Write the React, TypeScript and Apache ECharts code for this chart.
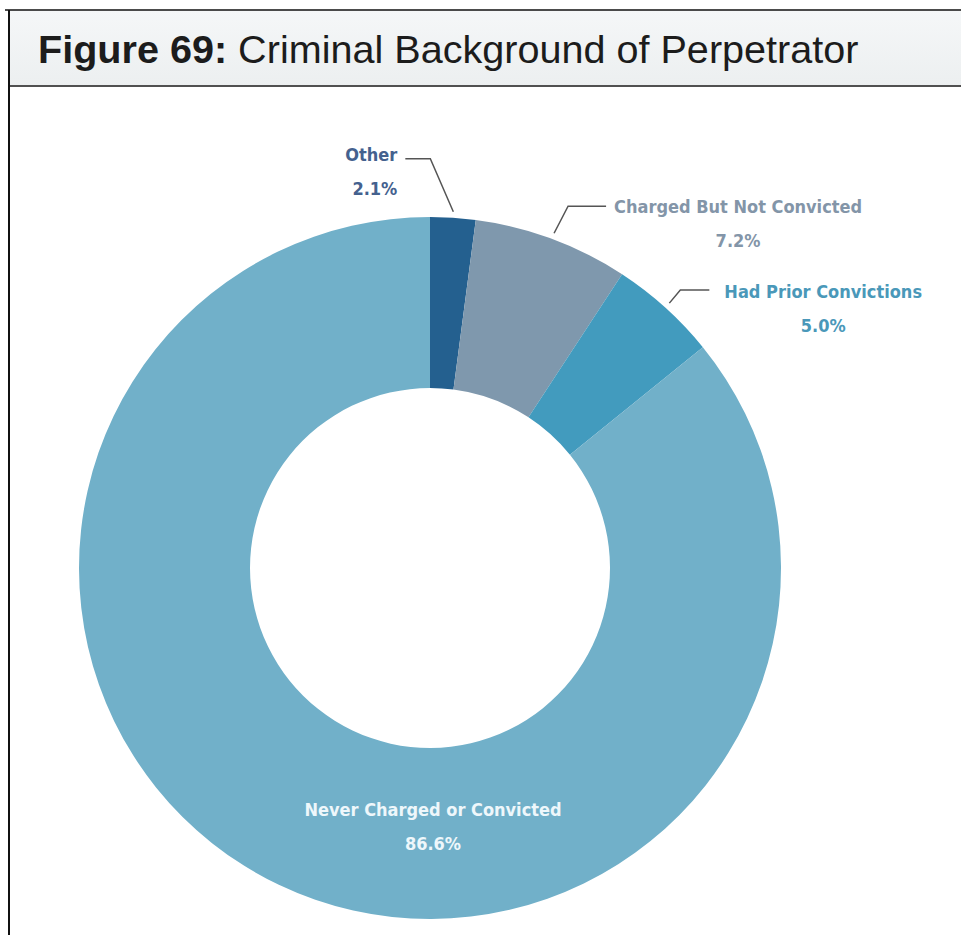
import React, { useEffect, useRef } from "react";
import * as echarts from "echarts";

// ---- data ----
const categories = [
  "Other",
  "Charged But Not Convicted",
  "Had Prior Convictions",
  "Never Charged or Convicted",
];
const percentages = [2.1, 7.2, 5.0, 86.6];
const titleBold = "Figure 69:";
const titleRest = " Criminal Background of Perpetrator";

// ---- styles / layout ----
const SLICE_COLORS = ["#24608f", "#7f98ad", "#429bbe", "#71b0c9"];
const LABEL_COLORS = ["#44618e", "#8395a8", "#4a98b9", "#eef7fb"];
const CX = 430;
const CY = 568;
const R_IN = 180;
const R_OUT = 351;
const LABEL_FONT = "'DejaVu Sans Condensed', 'Liberation Sans', sans-serif";
const TITLE_FONT = "'Liberation Sans', Arial, sans-serif";
const TITLE_SIZE = 39.6;
const LINE_H = 34;

// leader-line styling per slice index: elbow offset, horizontal run, text gap, text vertical offset
const LEADERS: Record<number, { ex: number; ey: number; h: number; gap: number; ty: number; side: "left" | "right" }> = {
  0: { ex: -23, ey: -53, h: -25, gap: 8, ty: -4, side: "left" },
  1: { ex: 14, ey: -27, h: 38, gap: 8, ty: 0, side: "right" },
  2: { ex: 11, ey: -13, h: 29, gap: 15, ty: 1, side: "right" },
};

function midPoint(i: number, r: number) {
  const total = percentages.reduce((a, b) => a + b, 0);
  let cum = 0;
  for (let k = 0; k < i; k++) cum += percentages[k];
  const frac = (cum + percentages[i] / 2) / total;
  const th = frac * Math.PI * 2;
  return [CX + r * Math.sin(th), CY - r * Math.cos(th)];
}

export default function App() {
  const ref = useRef<HTMLDivElement>(null);
  useEffect(() => {
    document.body.style.margin = "0";
    if (!ref.current) return;
    const chart = echarts.init(ref.current, null, { renderer: "svg" });
    const data = categories.map((name, i) => {
      const item: any = {
        name,
        value: percentages[i],
        itemStyle: { color: SLICE_COLORS[i] },
        label: { color: LABEL_COLORS[i] },
      };
      if (!LEADERS[i]) {
        item.label.position = "inside";
        item.labelLine = { show: false };
      }
      return item;
    });

    chart.setOption({
      animation: false,
      backgroundColor: "#ffffff",
      graphic: [
        {
          type: "rect",
          shape: { x: 9, y: 10, width: 952, height: 76 },
          style: {
            fill: new echarts.graphic.LinearGradient(0, 0, 0, 1, [
              { offset: 0, color: "#f5f7f8" },
              { offset: 1, color: "#eceff0" },
            ]),
          },
          silent: true,
        },
        {
          type: "line",
          shape: { x1: 9, y1: 86, x2: 961, y2: 86 },
          style: { stroke: "#505050", lineWidth: 2 },
          silent: true,
        },
        {
          type: "line",
          shape: { x1: 5, y1: 10, x2: 961, y2: 10 },
          style: { stroke: "#111", lineWidth: 1.5 },
          silent: true,
        },
        {
          type: "line",
          shape: { x1: 9, y1: 10, x2: 9, y2: 935 },
          style: { stroke: "#111", lineWidth: 2 },
          silent: true,
        },
        {
          type: "text",
          x: 38,
          y: 49,
          style: {
            text: `{b|${titleBold}}{r|${titleRest}}`,
            verticalAlign: "middle",
            fontFamily: TITLE_FONT,
            fontSize: TITLE_SIZE,
            fill: "#1c1c1c",
            rich: {
              b: { fontWeight: "bold", fontSize: TITLE_SIZE, fontFamily: TITLE_FONT, color: "#1a1a1a" },
              r: { fontWeight: "normal", fontSize: TITLE_SIZE, fontFamily: TITLE_FONT, color: "#222222" },
            },
          },
          silent: true,
        },
      ],
      series: [
        {
          type: "pie",
          center: [CX, CY],
          radius: [R_IN, R_OUT],
          startAngle: 90,
          clockwise: true,
          avoidLabelOverlap: false,
          itemStyle: { borderWidth: 0 },
          emphasis: { disabled: true },
          label: {
            show: true,
            position: "outside",
            formatter: (p: any) => `${p.name}\n${Number(p.value).toFixed(1)}%`,
            fontFamily: LABEL_FONT,
            fontWeight: "bold",
            fontSize: 18,
            lineHeight: LINE_H,
          },
          labelLine: {
            show: true,
            length: 10,
            length2: 10,
            lineStyle: { color: "#555555", width: 1.5 },
          },
          labelLayout: (params: any) => {
            const i = params.dataIndex;
            const lead = LEADERS[i];
            if (!lead) {
              return {
                x: CX + 3,
                y: CY + (R_IN + R_OUT) / 2 - 7,
                align: "center",
                verticalAlign: "middle",
              };
            }
            let p0: number[];
            const pts = params.labelLinePoints;
            if (pts && pts[0]) {
              const dx = pts[0][0] - CX;
              const dy = pts[0][1] - CY;
              const d = Math.sqrt(dx * dx + dy * dy) || 1;
              p0 = [CX + (dx / d) * (d + 6), CY + (dy / d) * (d + 6)];
            } else {
              p0 = midPoint(i, R_OUT + 6);
            }
            const p1 = [p0[0] + lead.ex, p0[1] + lead.ey];
            const p2 = [p1[0] + lead.h, p1[1]];
            const w = params.labelRect ? params.labelRect.width : 100;
            const x = lead.side === "left" ? p2[0] - lead.gap : p2[0] + lead.gap + w / 2;
            return {
              x,
              y: p2[1] + lead.ty - LINE_H / 2,
              align: lead.side === "left" ? "right" : "center",
              verticalAlign: "top",
              labelLinePoints: [p0, p1, p2],
            };
          },
          data,
        },
      ],
    });
    return () => chart.dispose();
  }, []);
  return <div ref={ref} style={{ width: 961, height: 935 }} />;
}
